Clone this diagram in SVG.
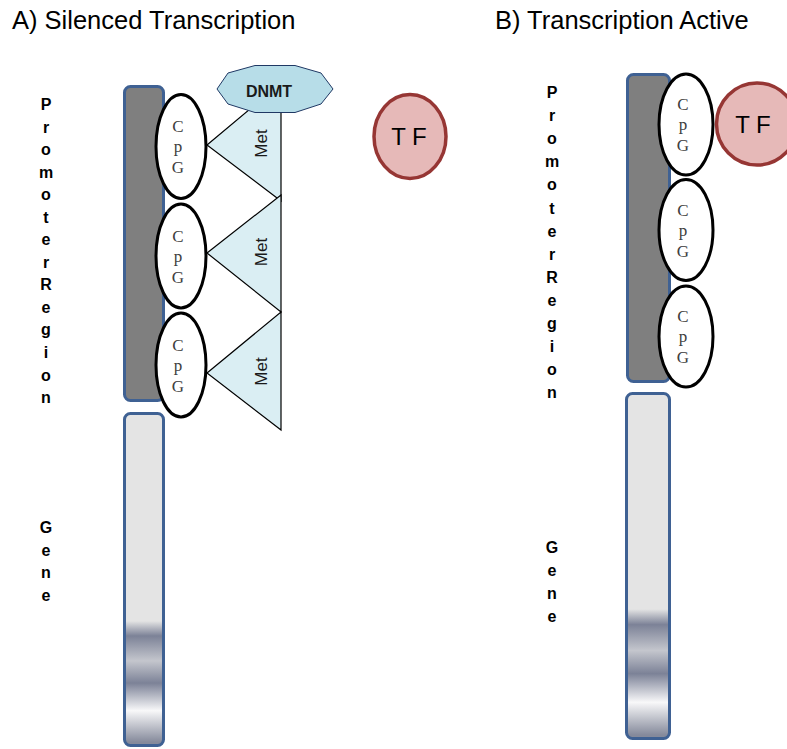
<svg xmlns="http://www.w3.org/2000/svg" width="787" height="749" viewBox="0 0 787 749">
<defs>
<linearGradient id="geneGrad" x1="0" y1="0" x2="0" y2="1">
<stop offset="0" stop-color="#e4e4e4"/>
<stop offset="0.625" stop-color="#e4e4e4"/>
<stop offset="0.67" stop-color="#7c8297"/>
<stop offset="0.745" stop-color="#c4c6cd"/>
<stop offset="0.812" stop-color="#7c8297"/>
<stop offset="0.895" stop-color="#f8f8f9"/>
<stop offset="0.99" stop-color="#858a9b"/>
<stop offset="1" stop-color="#858a9b"/>
</linearGradient>
<style>
.title{font-family:"Liberation Sans",Arial,sans-serif;font-size:25.5px;fill:#000}
.lbl{font-family:"Liberation Sans",Arial,sans-serif;font-size:16px;font-weight:bold;fill:#000;text-anchor:middle}
.prom{fill:#7f7f7f;stroke:#3f6193;stroke-width:3}
.gene{fill:url(#geneGrad);stroke:#3f6193;stroke-width:3}
.cpg{fill:#fff;stroke:#000;stroke-width:3}
.cpgt{font-family:"Liberation Serif","Times New Roman",serif;font-size:17px;fill:#404040;text-anchor:middle}
.met{fill:#daeef3;stroke:#000;stroke-width:1.2}
.mett{font-family:"Liberation Sans",Arial,sans-serif;font-size:17px;fill:#1a1a1a;text-anchor:middle}
.tf{fill:#e6b9b8;stroke:#963634;stroke-width:3.5}
.tft{font-family:"Liberation Sans",Arial,sans-serif;font-size:24px;fill:#000;text-anchor:middle}
</style>
</defs>

<g id="titleA"><text class="title" x="12" y="29">A) Silenced Transcription</text></g>
<g id="titleB"><text class="title" x="495" y="29">B) Transcription Active</text></g>

<g id="labelPromoterA">
<text class="lbl" x="46" y="110">P</text>
<text class="lbl" x="46" y="132.5">r</text>
<text class="lbl" x="46" y="155">o</text>
<text class="lbl" x="46" y="177.7">m</text>
<text class="lbl" x="46" y="200.2">o</text>
<text class="lbl" x="46" y="222.7">t</text>
<text class="lbl" x="46" y="245.2">e</text>
<text class="lbl" x="46" y="267.8">r</text>
<text class="lbl" x="46" y="290.3">R</text>
<text class="lbl" x="46" y="312.9">e</text>
<text class="lbl" x="46" y="335.4">g</text>
<text class="lbl" x="46" y="357.9">i</text>
<text class="lbl" x="46" y="380.5">o</text>
<text class="lbl" x="46" y="403">n</text>
</g>
<g id="labelGeneA">
<text class="lbl" x="46" y="533">G</text>
<text class="lbl" x="46" y="555.5">e</text>
<text class="lbl" x="46" y="578">n</text>
<text class="lbl" x="46" y="600.5">e</text>
</g>

<g id="labelPromoterB">
<text class="lbl" x="552" y="98">P</text>
<text class="lbl" x="552" y="121.1">r</text>
<text class="lbl" x="552" y="144.2">o</text>
<text class="lbl" x="552" y="167.3">m</text>
<text class="lbl" x="552" y="190.4">o</text>
<text class="lbl" x="552" y="213.5">t</text>
<text class="lbl" x="552" y="236.6">e</text>
<text class="lbl" x="552" y="259.7">r</text>
<text class="lbl" x="552" y="282.8">R</text>
<text class="lbl" x="552" y="305.9">e</text>
<text class="lbl" x="552" y="329">g</text>
<text class="lbl" x="552" y="352.1">i</text>
<text class="lbl" x="552" y="375.2">o</text>
<text class="lbl" x="552" y="398">n</text>
</g>
<g id="labelGeneB">
<text class="lbl" x="552" y="553">G</text>
<text class="lbl" x="552" y="576">e</text>
<text class="lbl" x="552" y="599">n</text>
<text class="lbl" x="552" y="622">e</text>
</g>

<!-- Panel A -->
<g id="promoterA"><rect class="prom" x="124.5" y="86.5" width="39" height="314" rx="6"/></g>
<g id="geneA"><rect class="gene" x="124.5" y="413.5" width="39" height="332" rx="6"/></g>

<g id="connectors">
<polygon id="met1" class="met" points="207,145 281,83 281,201"/>
<polygon id="met2" class="met" points="207,253 281,195 281,312"/>
<polygon id="met3" class="met" points="207,373 281,312 281,430"/>
</g>
<g id="metLabels">
<text class="mett" transform="translate(267,143.5) rotate(-90)">Met</text>
<text class="mett" transform="translate(267,252) rotate(-90)">Met</text>
<text class="mett" transform="translate(267,371.5) rotate(-90)">Met</text>
</g>

<g id="dnmt">
<polygon points="217,89 228,73 255,65.5 295,65.5 321,73 333,89 321,104 295,112.5 255,112.5 228,104" fill="#b7dde8" stroke="#1f3864" stroke-width="1"/>
<text x="269" y="96.5" font-family="Liberation Sans, Arial, sans-serif" font-size="16" font-weight="bold" fill="#1a1a1a" text-anchor="middle">DNMT</text>
</g>

<g id="cpgA1"><ellipse class="cpg" cx="181" cy="146.5" rx="25" ry="52"/>
<text class="cpgt" x="178" y="132">C</text><text class="cpgt" x="178" y="152">p</text><text class="cpgt" x="178" y="173">G</text></g>
<g id="cpgA2"><ellipse class="cpg" cx="181" cy="256" rx="25" ry="52"/>
<text class="cpgt" x="178" y="241.5">C</text><text class="cpgt" x="178" y="261.5">p</text><text class="cpgt" x="178" y="282.5">G</text></g>
<g id="cpgA3"><ellipse class="cpg" cx="181" cy="365" rx="25" ry="52"/>
<text class="cpgt" x="178" y="350.5">C</text><text class="cpgt" x="178" y="370.5">p</text><text class="cpgt" x="178" y="391.5">G</text></g>

<g id="tfA"><ellipse class="tf" cx="410" cy="136.5" rx="36" ry="42"/>
<text class="tft" x="409" y="145">T F</text></g>

<!-- Panel B -->
<g id="promoterB"><rect class="prom" x="627.5" y="74.5" width="42" height="307" rx="6"/></g>
<g id="geneB"><rect class="gene" x="626.5" y="393.5" width="43" height="345" rx="6"/></g>

<g id="cpgB1"><ellipse class="cpg" cx="686" cy="124.5" rx="27" ry="50.5"/>
<text class="cpgt" x="683" y="110">C</text><text class="cpgt" x="683" y="130">p</text><text class="cpgt" x="683" y="151">G</text></g>
<g id="cpgB2"><ellipse class="cpg" cx="686" cy="230" rx="27" ry="50.5"/>
<text class="cpgt" x="683" y="215.5">C</text><text class="cpgt" x="683" y="235.5">p</text><text class="cpgt" x="683" y="256.5">G</text></g>
<g id="cpgB3"><ellipse class="cpg" cx="686" cy="336.5" rx="27" ry="50.5"/>
<text class="cpgt" x="683" y="322">C</text><text class="cpgt" x="683" y="342">p</text><text class="cpgt" x="683" y="363">G</text></g>

<g id="tfB"><ellipse class="tf" cx="757" cy="124" rx="40.5" ry="41"/>
<text class="tft" x="753" y="133">T F</text></g>
</svg>
